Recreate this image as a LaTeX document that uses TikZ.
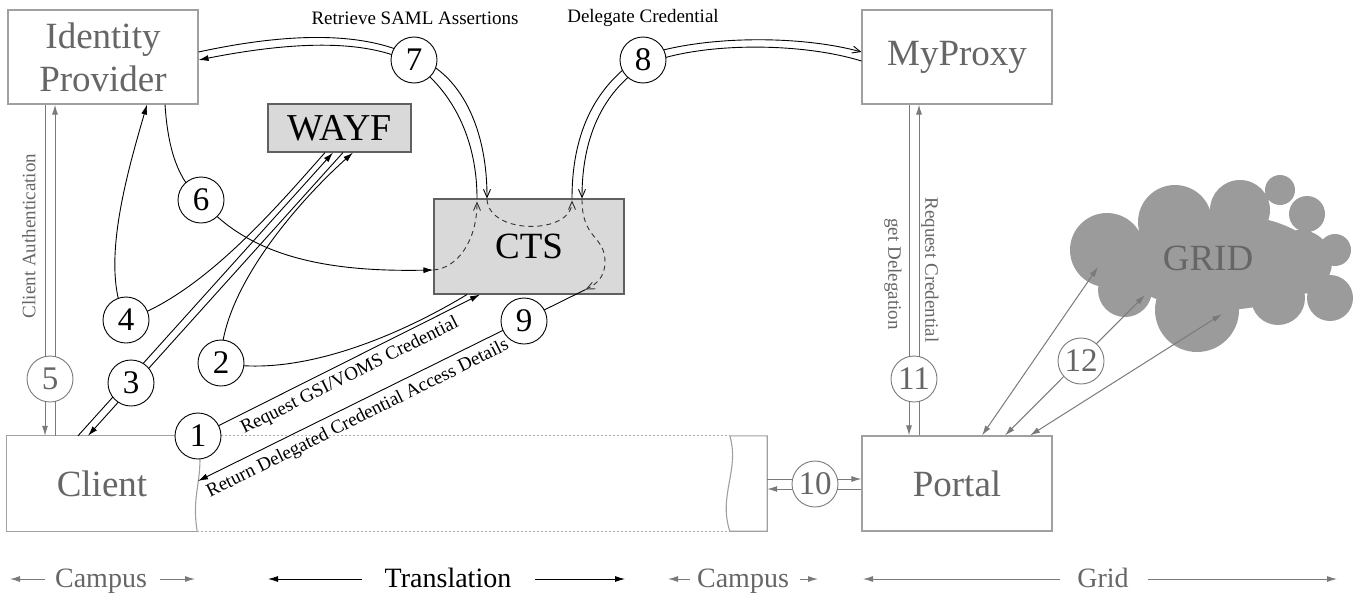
\documentclass[tikz,border=0pt]{standalone}
\usepackage{fontspec}
\setmainfont{Liberation Serif}
\usetikzlibrary{arrows.meta,calc}
\definecolor{boxgray}{HTML}{A0A0A0}
\definecolor{txtgray}{HTML}{666666}
\definecolor{fillgray}{HTML}{D9D9D9}
\definecolor{edgegray}{HTML}{606060}
\definecolor{cloudgray}{HTML}{9B9B9B}
\definecolor{linegray}{HTML}{7A7A7A}
\definecolor{dotgray}{HTML}{AAAAAA}
\newcommand{\myfs}[1]{\fontsize{#1}{#1}\selectfont}
\tikzset{FT/.tip={Latex[length=10pt,width=6pt]}, OT/.tip={Straight Barb[length=8pt,width=7pt]}}
\begin{document}
\begin{tikzpicture}[x=1pt,y=-1pt,
 box/.style={draw=boxgray,line width=1.1pt,fill=white,minimum width=190pt,minimum height=94pt,inner sep=0pt,text=txtgray,font=\myfs{37}},
 gbox/.style={draw=edgegray,line width=1.1pt,fill=fillgray,inner sep=0pt,text=black},
 outline/.style={draw=boxgray,line width=1.1pt},
 dotline/.style={draw=dotgray,line width=0.9pt,dash pattern=on 2pt off 2pt},
 ln/.style={draw=black,line width=0.9pt},
 gln/.style={draw=linegray,line width=1pt},
 dln/.style={draw=black!80,line width=0.9pt,dash pattern=on 5pt off 4pt},
 num/.style={circle,draw=black,fill=white,line width=0.9pt,minimum size=46pt,inner sep=0pt,font=\myfs{33}},
 gnum/.style={num,draw=linegray,text=txtgray},
 small/.style={font=\myfs{19}},
 leg/.style={anchor=base,font=\myfs{28}}
]
\useasboundingbox (0,0) rectangle (1359,597);

% ---------- boxes ----------
\node[box,align=center,font=\fontsize{37}{43}\selectfont] (idp) at (103,57) {Identity\\Provider};
\node[box] (myproxy) at (957,57) {MyProxy};
\node[box,minimum height=95pt] (portal) at (957,483.5) {Portal};
\node[gbox,minimum width=143pt,minimum height=48pt,font=\myfs{38}] (wayf) at (339.5,128) {WAYF};
\node[gbox,minimum width=190pt,minimum height=95pt,font=\myfs{37}] (cts) at (529,246.5) {CTS};
\node[inner sep=0pt,minimum width=190pt,minimum height=95pt,text=txtgray,font=\myfs{37}] (client) at (102,483.5) {Client};
\node[inner sep=0pt,minimum width=37pt,minimum height=95pt] (clientr) at (748.5,483.5) {};

% ---------- circle positions ----------
\coordinate (c1) at (198,436);
\coordinate (c2) at (221,363);
\coordinate (c3) at (131,383);
\coordinate (c4) at (126,320);
\coordinate (c5) at (50,379);
\coordinate (c6) at (201,200);
\coordinate (c7) at (414,60);
\coordinate (c8) at (643,60);
\coordinate (c9) at (524,321);
\coordinate (c10) at (815,484);
\coordinate (c11) at (914,379);
\coordinate (c12) at (1081,361);

% ---------- client outline ----------
\draw[outline] (client.north east) -- (client.north west) -- (client.south west) -- (client.south east);
\draw[outline] ($(c1)+(2,23)$) .. controls (200,485) and (192,500) .. (client.south east);
\draw[dotline] (client.north east) -- (clientr.north west);
\draw[dotline] (client.south east) -- (clientr.south west);
\draw[outline] (clientr.north west) .. controls (740,470) and (718,495) .. (clientr.south west) -- (clientr.south east) -- (clientr.north east) -- (clientr.north west);
\coordinate (cw) at (198,481);

% ---------- cloud ----------
\fill[cloudgray] (1107,250) circle[radius=37pt]
  (1175,222) circle[radius=37pt]
  (1240,210) circle[radius=30pt]
  (1280,190) circle[radius=15pt]
  (1307,214) circle[radius=18pt]
  (1335,250) circle[radius=16pt]
  (1330,298) circle[radius=23pt]
  (1278,298) circle[radius=27pt]
  (1197,310) circle[radius=42pt]
  (1125,290) circle[radius=27pt]
  (1300,262) circle[radius=32pt]
  (1220,262) ellipse[x radius=100pt,y radius=48pt];
\node[text=txtgray,font=\myfs{37},inner sep=0pt] (grid) at (1208,258) {GRID};
\coordinate (g1) at (1098,267);
\coordinate (g2) at (1145,295);
\coordinate (g3) at (1222,314);

% ---------- 5: client authentication ----------
\draw[gln,-FT] ($(idp.south)+(-58,0)$) -- ($(client.north)+(-57,0)$);
\draw[gln,-FT] ($(client.north)+(-47,0)$) -- ($(idp.south)+(-48,0)$);
% ---------- 11: MyProxy - Portal ----------
\draw[gln,-FT] ($(myproxy.south)+(-48,0)$) -- ($(portal.north)+(-48,0)$);
\draw[gln,-FT] ($(portal.north)+(-38,0)$) -- ($(myproxy.south)+(-38,0)$);
% ---------- 10 ----------
\draw[gln,-FT] ($(clientr.east)+(0,-4.5)$) -- ($(portal.west)+(0,-4.5)$);
\draw[gln,-FT] ($(portal.west)+(0,5.5)$) -- ($(clientr.east)+(0,5.5)$);
% ---------- 12 ----------
\draw[gln,FT-FT] ($(portal.north)+(25,0)$) -- (g1);
\draw[gln,FT-FT] ($(portal.north)+(48,0)$) -- (g2);
\draw[gln,FT-FT] ($(portal.north)+(73,0)$) -- (g3);

% ---------- 3: client - WAYF ----------
\draw[ln,-FT] ($(client.north)+(-24,0)$) -- ($(wayf.south)+(-6.5,0)$);
\draw[ln,-FT] ($(wayf.south)+(3.5,0)$) -- ($(client.north)+(-14,0)$);
% ---------- 4 ----------
\draw[ln] ($(wayf.south)+(-14.5,0)$) .. controls (270,215) and (200,295) .. (c4);
\draw[ln,-FT] (c4) .. controls (100,270) and (125,180) .. ($(idp.south)+(44,0)$);
% ---------- 2 ----------
\draw[ln] ($(cts.south)+(-62,0)$) .. controls (400,335) and (300,378) .. (c2);
\draw[ln,-FT] (c2) .. controls (220,290) and (300,200) .. ($(wayf.south)+(13.5,0)$);
% ---------- 6 ----------
\draw[ln] ($(idp.south)+(62,0)$) .. controls (168,150) and (178,180) .. (c6);
\draw[ln,-FT] (c6) .. controls (250,258) and (330,272) .. ($(cts.west)+(0,23.5)$);
% ---------- 1 ----------
\draw[ln,-FT] (c1) -- ($(cts.south)+(-49,0)$);
% ---------- 9 ----------
\draw[ln,-FT] ($(cts.south east)+(-39,-5)$) -- (cw);
% ---------- 7 ----------
\draw[ln,-OT] ($(idp.east)+(0,-5)$) .. controls (300,30) and (370,34) .. ($(c7)+(0,-3)$) .. controls (455,70) and (487,120) .. ($(cts.north)+(-42,0)$);
\draw[ln,-FT] ($(cts.north)+(-52,0)$) .. controls (477,130) and (445,85) .. ($(c7)+(0,4)$) .. controls (370,40) and (300,40) .. ($(idp.east)+(0,3)$);
% ---------- 8 ----------
\draw[ln,-OT] ($(cts.north)+(43,0)$) .. controls (572,120) and (605,80) .. ($(c8)+(-3,-3)$) .. controls (700,35) and (800,35) .. ($(myproxy.west)+(0,-5)$);
\draw[ln,-OT] ($(myproxy.west)+(0,4)$) .. controls (800,42) and (700,42) .. ($(c8)+(3,4)$) .. controls (612,85) and (582,125) .. ($(cts.north)+(53,0)$);
% ---------- dashed paths inside CTS ----------
\draw[dln,-OT] ($(cts.west)+(0,23.5)$) .. controls (458,268) and (477,240) .. ($(cts.north)+(-52,3)$);
\draw[dln,-OT] ($(cts.north)+(-42,1)$) .. controls (489,235) and (572,235) .. ($(cts.north)+(43,2)$);
\draw[dln,-OT] ($(cts.north)+(53,1)$) .. controls (582,240) and (605,235) .. (605,262) .. controls (605,278) and (595,285) .. ($(cts.south east)+(-39,-5)$);

% ---------- circles ----------
\node[num] (n1) at (c1) {1};
\node[num] (n2) at (c2) {2};
\node[num] (n3) at (c3) {3};
\node[num] (n4) at (c4) {4};
\node[gnum] (n5) at (c5) {5};
\node[num] (n6) at (c6) {6};
\node[num] (n7) at (c7) {7};
\node[num] (n8) at (c8) {8};
\node[num] (n9) at (c9) {9};
\node[gnum] (n10) at (c10) {10};
\node[gnum] (n11) at (c11) {11};
\node[gnum] (n12) at (c12) {12};

% ---------- labels ----------
\node[small] (t7) at (415,18) {Retrieve SAML Assertions};
\node[small] (t8) at (643,18) {Delegate Credential};
\node[small,text=txtgray,rotate=90] (t5) at (29,236) {Client Authentication};
\node[small,text=txtgray,rotate=-90] (t11a) at (930,270) {Request Credential};
\node[small,text=txtgray,rotate=-90] (t11b) at (893,274) {get Delegation};
\node[small,rotate=26.6] (t1) at (350,376) {Request GSI/VOMS Credential};
\node[small,rotate=26.4] (t9) at (358,419) {Return Delegated Credential Access Details};

% ---------- legend ----------
\node[leg,text=txtgray] (lc1) at (101,587) {Campus};
\node[leg] (lt) at (448,587) {Translation};
\node[leg,text=txtgray] (lc2) at (743,587) {Campus};
\node[leg,text=txtgray] (lg) at (1103,587) {Grid};
\coordinate (a1) at (45,579); \coordinate (a2) at (10,579);
\coordinate (a3) at (160,579); \coordinate (a4) at (195,579);
\coordinate (a5) at (362,579); \coordinate (a6) at (268,579);
\coordinate (a7) at (535,579); \coordinate (a8) at (625,579);
\coordinate (a9) at (690,579); \coordinate (a10) at (668,579);
\coordinate (a11) at (800,579); \coordinate (a12) at (818,579);
\coordinate (a13) at (1060,579); \coordinate (a14) at (863,579);
\coordinate (a15) at (1148,579); \coordinate (a16) at (1337,579);
\draw[gln,-FT] (a1) -- (a2);
\draw[gln,-FT] (a3) -- (a4);
\draw[ln,-FT] (a5) -- (a6);
\draw[ln,-FT] (a7) -- (a8);
\draw[gln,-FT] (a9) -- (a10);
\draw[gln,-FT] (a11) -- (a12);
\draw[gln,-FT] (a13) -- (a14);
\draw[gln,-FT] (a15) -- (a16);
\end{tikzpicture}
\end{document}
